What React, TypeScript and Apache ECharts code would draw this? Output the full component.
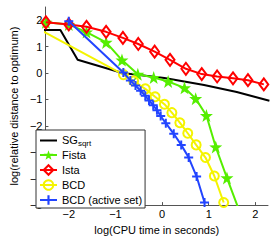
import React, { useEffect, useRef } from "react";
import * as echarts from "echarts";

// SG_sqrt (black line)
const sgX = [-2.7, -2.18, -1.81, -0.85, 0.05, 0.9, 1.6, 2.3];
const sgY = [1.63, 1.63, 0.5, 0.0, -0.19, -0.45, -0.72, -1.05];

// Fista (green stars)
const fistaX = [-2.49, -2.0, -1.62, -1.2, -0.86, -0.52, -0.18, 0.13, 0.48, 0.72, 0.95, 1.15, 1.39, 1.63];
const fistaY = [1.92, 1.84, 1.55, 1.16, 0.49, -0.05, -0.17, -0.32, -0.56, -0.97, -1.61, -2.8, -3.97, -5.1];

// Ista (red diamonds)
const istaX = [-2.49, -2.0, -1.62, -1.2, -0.84, -0.51, -0.16, 0.17, 0.51, 0.85, 1.18, 1.52, 1.84, 2.18];
const istaY = [1.92, 1.84, 1.75, 1.56, 1.33, 1.1, 0.81, 0.5, 0.16, -0.04, -0.13, -0.2, -0.27, -0.43];

// BCD (yellow circles)
const bcdX = [-2.7, -0.83, -0.61, -0.36, -0.15, 0.05, 0.21, 0.38, 0.55, 0.73, 0.93, 1.12, 1.32];
const bcdY = [1.72, -0.06, -0.3, -0.6, -0.9, -1.18, -1.5, -1.88, -2.28, -2.72, -3.2, -3.9, -4.9];

// BCD (active set) (blue pluses)
const bcdaX = [-2.0, -0.83, -0.68, -0.57, -0.46, -0.36, -0.28, -0.19, -0.11, -0.03, 0.08, 0.25, 0.41, 0.57, 0.74, 0.91];
const bcdaY = [1.96, 0.02, -0.28, -0.47, -0.67, -0.86, -1.04, -1.22, -1.41, -1.63, -1.9, -2.3, -2.72, -3.2, -3.92, -4.9];

const xTicks = [-2, -1, 0, 1, 2];
const yTicks = [-5, -4, -3, -2, -1, 0, 1, 2];

const seriesNames = ["SG_sqrt", "Fista", "Ista", "BCD", "BCD (active set)"];

const STAR =
  "path://M0,-10 L2.35,-3.24 L9.51,-3.09 L3.8,1.24 L5.88,8.09 L0,4 L-5.88,8.09 L-3.8,1.24 L-9.51,-3.09 L-2.35,-3.24 Z";
const PLUS =
  "path://M-1,-4.5 L1,-4.5 L1,-1 L4.5,-1 L4.5,1 L1,1 L1,4.5 L-1,4.5 L-1,1 L-4.5,1 L-4.5,-1 L-1,-1 Z";
const LINE_ICON = "path://M0,0 L17,0 L17,2 L0,2 Z";

const fmt = (v: number) => (v < 0 ? "\u2212" + Math.abs(v) : String(v));

const pairs = (xs: number[], ys: number[]) => xs.map((x, i) => [x, ys[i]]);

export default function App() {
  const ref = useRef<HTMLDivElement>(null);
  useEffect(() => {
    if (!ref.current) return;
    const chart = echarts.init(ref.current, null, { renderer: "svg" });
    const font = "Liberation Sans";

    const fistaData: any[] = pairs(fistaX, fistaY);
    fistaData[fistaData.length - 1] = { value: fistaData[fistaData.length - 1], symbol: "none" };
    const bcdData: any[] = pairs(bcdX, bcdY);
    bcdData[0] = { value: bcdData[0], symbol: "none" };

    chart.setOption({
      animation: false,
      backgroundColor: "#ffffff",
      textStyle: { fontFamily: font },
      grid: { left: 33, right: 6, top: 7, bottom: 29, containLabel: false },
      xAxis: {
        type: "value",
        min: -2.5,
        max: 2.27,
        name: "log(CPU time in seconds)",
        nameLocation: "middle",
        nameGap: 16,
        nameTextStyle: { fontFamily: font, fontSize: 11, color: "#000" },
        axisLine: { show: true, onZero: false, lineStyle: { color: "#555", width: 1 } },
        axisTick: { show: true, inside: true, length: 3, customValues: xTicks, lineStyle: { color: "#555" } },
        axisLabel: { customValues: xTicks, formatter: fmt, fontFamily: font, fontSize: 11, color: "#000", margin: 3 },
        splitLine: { show: false },
      },
      yAxis: {
        type: "value",
        min: -5,
        max: 2.5,
        name: "log(relative distance to optimum)",
        nameLocation: "middle",
        nameGap: 19,
        nameTextStyle: { fontFamily: font, fontSize: 11, color: "#000" },
        axisLine: { show: true, onZero: false, lineStyle: { color: "#555", width: 1 } },
        axisTick: { show: true, inside: true, length: 3, customValues: yTicks, lineStyle: { color: "#555" } },
        axisLabel: { customValues: yTicks, formatter: fmt, fontFamily: font, fontSize: 11, color: "#000", margin: 3 },
        splitLine: { show: false },
      },
      legend: {
        orient: "vertical",
        left: 36,
        top: 130,
        padding: [1, 3, 1, 3],
        itemGap: 1,
        itemWidth: 17,
        itemHeight: 12,
        backgroundColor: "#fff",
        borderColor: "#333",
        borderWidth: 1,
        borderRadius: 0,
        data: seriesNames.map((n) => (n === "SG_sqrt" ? { name: n, icon: LINE_ICON } : n)),
        formatter: (name: string) => (name === "SG_sqrt" ? "{a|SG}{s|sqrt}" : name),
        textStyle: {
          fontFamily: font,
          fontSize: 11,
          color: "#000",
          lineHeight: 14,
          rich: {
            a: { fontFamily: font, fontSize: 11, color: "#000", verticalAlign: "top", lineHeight: 13 },
            s: { fontFamily: font, fontSize: 8, color: "#000", verticalAlign: "bottom", lineHeight: 10, padding: [8, 0, 0, 0] },
          },
        },
      },
      series: [
        {
          name: "SG_sqrt",
          type: "line",
          data: pairs(sgX, sgY),
          symbol: "none",
          lineStyle: { color: "#000", width: 2 },
          itemStyle: { color: "#000" },
          z: 1,
        },
        {
          name: "Fista",
          type: "line",
          data: fistaData,
          symbol: STAR,
          symbolSize: 13,
          lineStyle: { color: "#55ee00", width: 2 },
          itemStyle: { color: "#55ee00" },
          z: 2,
        },
        {
          name: "Ista",
          type: "line",
          data: pairs(istaX, istaY),
          symbol: "diamond",
          symbolSize: [9, 12],
          lineStyle: { color: "#ff0000", width: 2 },
          itemStyle: { color: "rgba(255,255,255,0)", borderColor: "#ff0000", borderWidth: 2 },
          z: 3,
        },
        {
          name: "BCD",
          type: "line",
          data: bcdData,
          symbol: "circle",
          symbolSize: 9,
          lineStyle: { color: "#f4f400", width: 2 },
          itemStyle: { color: "rgba(255,255,255,0)", borderColor: "#f4f400", borderWidth: 2 },
          z: 4,
        },
        {
          name: "BCD (active set)",
          type: "line",
          data: pairs(bcdaX, bcdaY),
          symbol: PLUS,
          symbolSize: 9,
          lineStyle: { color: "#2244ff", width: 2 },
          itemStyle: { color: "#2244ff" },
          z: 5,
        },
      ],
    });
    return () => chart.dispose();
  }, []);
  return (
    <div
      ref={ref}
      style={{ position: "fixed", left: 0, top: 0, width: 274, height: 240 }}
    />
  );
}
